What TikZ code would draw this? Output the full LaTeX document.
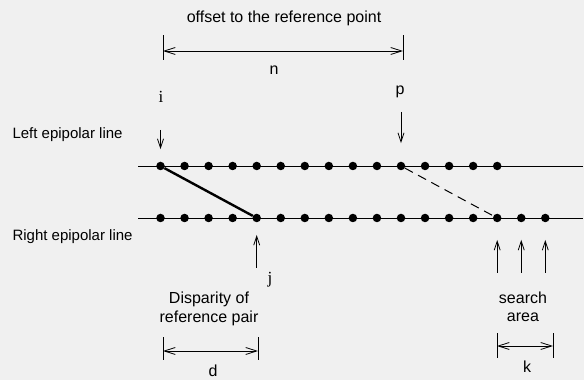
\documentclass[tikz,border=0pt]{standalone}
\usepackage{fontspec}
\setmainfont{Liberation Sans}
\newfontfamily\letterfont{Liberation Serif}
\usetikzlibrary{arrows.meta, positioning, calc}

\begin{document}
\begin{tikzpicture}[x=1pt, y=1pt, font=\fontsize{16}{18.5}\selectfont,
  dot/.style={circle, fill=black, inner sep=0pt, minimum size=8.5pt},
  epiline/.style={line width=0.9pt},
  sidelabel/.style={anchor=west, font=\fontsize{15}{18}\selectfont},
  pointer/.style={-{Straight Barb[length=9pt, width=6pt]}, line width=0.8pt},
  dimline/.style={{Straight Barb[length=11pt, width=7pt]}-{Straight Barb[length=11pt, width=7pt]}, line width=0.8pt},
  bar/.style={line width=0.8pt}]
  \fill[black!6] (0,0) rectangle (584,380);
  \useasboundingbox (0,0) rectangle (584,380);

  % the two epipolar lines
  \coordinate (Lstart) at (138,214);
  \coordinate (Lend) at (583,214);
  \coordinate (Rstart) at (138,162);
  \coordinate (Rend) at (583,162);
  \draw[epiline] (Lstart) -- (Lend);
  \draw[epiline] (Rstart) -- (Rend);
  \foreach \k in {0,...,14}
    \node[dot] (L\k) at (160.5+24.05*\k, 214) {};
  \foreach \k in {0,...,16}
    \node[dot] (R\k) at (160.5+24.05*\k, 162) {};
  \draw[line width=2.4pt] (L0) -- (R4);
  \draw[dash pattern=on 9pt off 6pt, line width=1pt] (L10) -- (R14);

  \node[sidelabel] (leftlbl) at (9,245) {Left epipolar line};
  \node[sidelabel] (rightlbl) at (9,143) {Right epipolar line};

  % pointers to i, p, j and the search area
  \coordinate[above=36pt of L0.center] (iTail);
  \coordinate[above=54pt of L10.center] (pTail);
  \coordinate[below=50pt of R4.center] (jTail);
  \draw[pointer, shorten >=12.5pt] (iTail) -- (L0);
  \draw[pointer, shorten >=18.5pt] (pTail) -- (L10);
  \draw[pointer, shorten >=12.5pt] (jTail) -- (R4);
  \foreach \k in {14,15,16} {
    \coordinate[below=55pt of R\k.center] (sTail\k);
    \draw[pointer, shorten >=17.5pt] (sTail\k) -- (R\k);
  }
  \node (ilabel) at (161,283) {\letterfont\fontsize{17}{18}\selectfont i};
  \node (plabel) at (400,288) {p};
  \node (jlabel) at (270,100) {\letterfont\fontsize{17}{18}\selectfont j};

  % offset n
  \node (offset) at (284,362) {offset to the reference point};
  \coordinate (nA) at (163,329);
  \coordinate (nB) at (403,329);
  \draw[bar] ($(nA)+(0,-9)$) -- ($(nA)+(0,16)$);
  \draw[bar] ($(nB)+(0,-9)$) -- ($(nB)+(0,16)$);
  \draw[dimline] (nA) -- (nB);
  \node (nlabel) at (274,310) {n};

  % disparity d
  \node[align=center] (disp) at (209,71) {Disparity of\\reference pair};
  \coordinate (dA) at (163,29);
  \coordinate (dB) at (258,29);
  \draw[bar] ($(dA)+(0,-9)$) -- ($(dA)+(0,14)$);
  \draw[bar] ($(dB)+(0,-9)$) -- ($(dB)+(0,14)$);
  \draw[dimline] (dA) -- (dB);
  \node (dlabel) at (213,9) {d};

  % search area k
  \node[align=center] (search) at (523,73) {search\\area};
  \coordinate (kA) at (497,34);
  \coordinate (kB) at (553,34);
  \draw[bar] ($(kA)+(0,-12)$) -- ($(kA)+(0,13)$);
  \draw[bar] ($(kB)+(0,-12)$) -- ($(kB)+(0,13)$);
  \draw[dimline] (kA) -- (kB);
  \node (klabel) at (527,13) {k};
\end{tikzpicture}
\end{document}
